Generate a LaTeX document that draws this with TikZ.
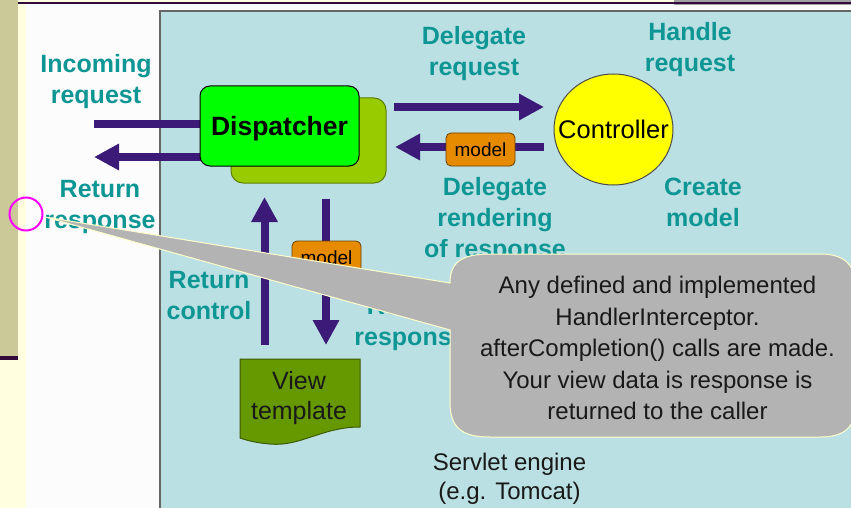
\documentclass[tikz,border=0pt]{standalone}
\usepackage{fontspec}
\setmainfont{Liberation Sans}
\usetikzlibrary{arrows.meta,shapes.geometric}
\definecolor{tealtxt}{HTML}{0E9694}
\definecolor{arrowc}{HTML}{3B1A78}
\definecolor{panelc}{HTML}{BBE0E3}
\definecolor{olivestrip}{HTML}{CCC999}
\definecolor{lightyel}{HTML}{FFFFE0}
\definecolor{darkpurp}{HTML}{330A3C}
\definecolor{backgreen}{HTML}{99CC00}
\definecolor{backedge}{HTML}{5E7F00}
\definecolor{modelc}{HTML}{E68A00}
\definecolor{modeledge}{HTML}{6A4000}
\definecolor{viewc}{HTML}{669900}
\definecolor{viewedge}{HTML}{3C5A00}
\definecolor{calloutc}{HTML}{B3B3B3}
\definecolor{calloutedge}{HTML}{FFFFCC}
\definecolor{ringc}{HTML}{FF00FF}
\definecolor{ctrlyel}{HTML}{FFFF00}
\definecolor{dispgreen}{HTML}{00FF00}
\tikzset{
  lbl/.style={text=tealtxt, font=\bfseries\fontsize{25}{31}\selectfont, align=center, inner sep=0pt},
  arrline/.style={draw=arrowc, line width=8pt},
  arrtip/.style={arrline, -{Triangle[length=25pt,width=25pt]}},
  modelbox/.style={draw=modeledge, fill=modelc, rounded corners=5pt, minimum width=69pt, minimum height=33pt, inner sep=0pt, font=\fontsize{19}{22}\selectfont, line width=0.8pt},
  plaintxt/.style={font=\fontsize{24}{31.5}\selectfont, align=center, inner sep=0pt, text=black!90}
}
\begin{document}
\begin{tikzpicture}[x=1pt,y=-1pt]
\useasboundingbox (0,0) rectangle (851,508);
\clip (0,0) rectangle (851,508);
% background
\fill[lightyel] (0,0) rectangle (851,508);
\fill[white!99!black] (26,4) rectangle (851,508);
\fill[olivestrip] (0,0) rectangle (18,358);
\fill[darkpurp] (0,356) rectangle (18,360);
\fill[black!37] (674,0) rectangle (851,5.5);
\fill[darkpurp] (18,2) rectangle (851,4);
% panel
\draw[fill=panelc, draw=black!60, line width=1.5pt] (160,11) rectangle (870,530);
% labels
\node[lbl] (lin) at (96,81.5) {Incoming\\request};
\node[lbl] (lret) at (100,207) {Return\\response};
\node[lbl] (ldel) at (474,54) {Delegate\\request};
\node[lbl] (lhand) at (690,50) {Handle\\request};
\node[lbl] (ldr) at (495,220) {Delegate\\rendering\\of response};
\node[lbl] (lcre) at (703,202) {Create\\model};
\node[lbl] (lrc) at (209,296) {Return\\control};
\node[lbl] (lrr) at (410,323.5) {Render\\response};
% arrow end points
\coordinate (inL) at (94,124);
\coordinate (inR) at (205,124);
\coordinate (retR) at (205,157);
\coordinate (retL) at (94,157);
\coordinate (drS) at (394,107);
\coordinate (drE) at (544,107);
\coordinate (cmS) at (544,147);
\coordinate (cmE) at (395,147);
\coordinate (rcS) at (264.5,345);
\coordinate (rcE) at (264.5,197);
\coordinate (rrS) at (326,199);
\coordinate (rrE) at (326,345);
\draw[arrline] (inL) -- (inR);
\draw[arrtip] (retR) -- (retL);
\draw[arrtip] (drS) -- (drE);
\draw[arrtip] (cmS) -- (cmE);
\draw[arrtip] (rcS) -- (rcE);
\draw[arrtip] (rrS) -- (rrE);
% boxes
\node[draw=backedge, fill=backgreen, rounded corners=12pt, minimum width=155pt, minimum height=85pt, line width=1pt] (back) at (308.5,140.5) {};
\node[draw=black, fill=dispgreen, rounded corners=10pt, minimum width=159pt, minimum height=80pt, line width=1pt,
  label={[yshift=-3pt, inner sep=0pt, font=\bfseries\fontsize{26.5}{30}\selectfont]center:Dispatcher}] (disp) at (279.5,126) {};
\node[ellipse, draw=black!70, fill=ctrlyel, minimum width=119pt, minimum height=111pt, inner sep=0pt, line width=1pt, font=\fontsize{25.5}{30}\selectfont] (ctrl) at (613.5,129.5) {\makebox[0pt]{Controller}};
\node[modelbox] (m1) at (480.5,149.5) {model};
\node[modelbox] (m2) at (326.5,257.5) {model};
% view template
\draw[fill=viewc, draw=viewedge, line width=1pt] (240,359) -- (360,359) -- (360,427)
  .. controls (322,427) and (300,447) .. (270,444)
  .. controls (256,443) and (246,440) .. (240,438) -- cycle;
\node[plaintxt, font=\fontsize{25}{30}\selectfont] (view) at (299,398) {View\\template};
% callout
\draw[fill=calloutc, draw=calloutedge, line width=1pt] (45,217) -- (450,283)
  .. controls (450,262) and (462,254) .. (490,254) -- (820,254)
  .. controls (845,254) and (856,265) .. (856,290) -- (856,402)
  .. controls (856,427) and (845,437) .. (820,437) -- (490,437)
  .. controls (462,437) and (450,428) .. (450,402) -- (450,330) -- cycle;
\node[plaintxt] (note) at (657.5,348) {Any defined and implemented\\HandlerInterceptor.\\afterCompletion() calls are made.\\Your view data is response is\\returned to the caller};
\node[plaintxt, font=\fontsize{24}{29}\selectfont] (servlet) at (509.5,478.5) {Servlet engine\\(e.g. Tomcat)};
% highlight circle
\draw[ringc, line width=2pt] (26,214) circle[radius=16.5pt];
\end{tikzpicture}
\end{document}
